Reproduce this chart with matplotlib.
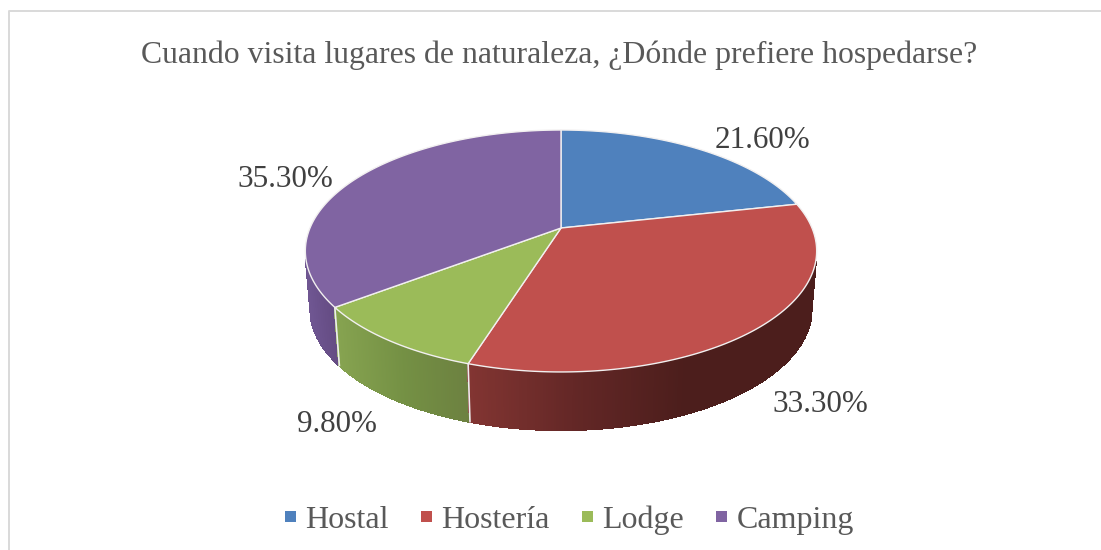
import numpy as np
import matplotlib
matplotlib.use("Agg")
import matplotlib.pyplot as plt
from matplotlib.collections import PolyCollection
from matplotlib.colors import LinearSegmentedColormap
from matplotlib.patches import Rectangle

# Data
title = "Cuando visita lugares de naturaleza, ¿Dónde prefiere hospedarse?"
categories = ["Hostal", "Hostería", "Lodge", "Camping"]
values = [21.6, 33.3, 9.8, 35.3]
value_labels = ["21.60%", "33.30%", "9.80%", "35.30%"]

top_colors = ["#4f81bd", "#c0504d", "#9bbb59", "#8064a2"]
# left to right colours of the visible rim of each slice
side_colors = [None,
               ["#823532", "#632726", "#4c1e1c"],
               ["#86a350", "#749044", "#6c8040"],
               ["#6f5692", "#62497f"]]
# x where the rim gradient ends, the red one goes flat before the slice does
grad_end = [None, 685, 470, 340]

label_pos = [(715, 148), (772, 412), (297, 432), (237, 187)]
legend_box_x = [285, 421, 582, 716]
legend_text_x = [305, 441, 602, 737]

# pie geometry in pixels, the top face is a circle seen in perspective
cx, cy = 561, 228
radius = 251
height = 116.6
persp = 0.19
depth = 58
base_scale = 0.98


def project(angle, base=False):
    # angle in degrees clockwise from 12 o'clock
    t = np.radians(angle)
    u = np.sin(t)
    v = np.cos(t)
    w = 1 + persp * v
    x = u * radius / w
    y = cy - v * height / w
    if base:
        return cx + x * base_scale, y + depth
    return cx + x, y


fig = plt.figure(figsize=(11.01, 5.5), dpi=100)
ax = fig.add_axes([0, 0, 1, 1])
ax.set_xlim(0, 1101)
ax.set_ylim(550, 0)
ax.axis("off")

# chart frame, only the top and left sides are in the crop
ax.plot([1101, 8.5, 8.5], [10.5, 10.5, 550], color="#d9d9d9", lw=1.4, zorder=1)

edges = np.cumsum([0] + values) * 3.6

# rims first, thin quads so the outline stays filled where the rim folds
for i in [3, 2, 1]:
    a = np.linspace(edges[i], edges[i + 1], 240)
    xt, yt = project(a)
    xb, yb = project(a, base=True)
    quads = []
    cols = []
    x_start = min(xt.min(), xb.min())
    cmap = LinearSegmentedColormap.from_list("rim", side_colors[i])
    for j in range(len(a) - 1):
        # back of the pie is hidden by the top face, skip it
        if np.cos(np.radians(a[j])) > -0.27:
            continue
        quads.append([(xt[j], yt[j]), (xt[j + 1], yt[j + 1]),
                      (xb[j + 1], yb[j + 1]), (xb[j], yb[j])])
        f = (xt[j] - x_start) / (grad_end[i] - x_start)
        cols.append(cmap(np.clip(f, 0, 1)))
    ax.add_collection(PolyCollection(quads, facecolors=cols, edgecolors=cols,
                                     linewidths=1.0, antialiaseds=False, zorder=2))

# seams between the rims
for i in [2, 3]:
    xt, yt = project(edges[i])
    xb, yb = project(edges[i], base=True)
    ax.plot([xt, xb], [yt, yb], color="#eeeeee", lw=1.2, zorder=3)

# top face
for i in range(len(values)):
    a = np.linspace(edges[i], edges[i + 1], 200)
    xt, yt = project(a)
    px = np.r_[cx, xt]
    py = np.r_[cy, yt]
    ax.fill(px, py, facecolor=top_colors[i], edgecolor="#f2f0f0", lw=1.0, zorder=4)

for lab, (x, y) in zip(value_labels, label_pos):
    ax.text(x, y, lab, fontsize=22.4, family="Liberation Serif", color="#404040",
            ha="left", va="baseline", zorder=5)

ax.text(559.5, 63, title, fontsize=22.9, family="Liberation Serif", color="#595959",
        ha="center", va="baseline", zorder=5)

for name, col, bx, tx in zip(categories, top_colors, legend_box_x, legend_text_x):
    ax.add_patch(Rectangle((bx, 511), 11, 11, fc=col, ec="none", zorder=5))
    ax.text(tx, 528, name, fontsize=23, family="Liberation Serif", color="#595959",
            ha="left", va="baseline", zorder=5)

fig.savefig("out.png", dpi=100)
